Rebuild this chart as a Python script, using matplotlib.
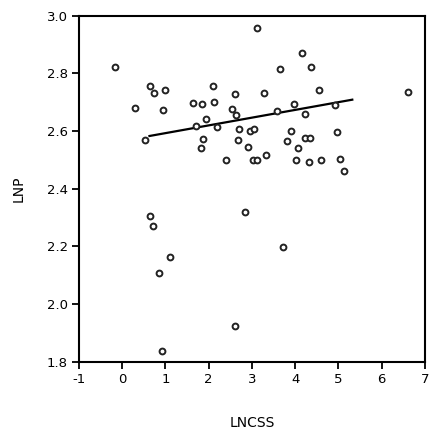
import numpy as np
import matplotlib.pyplot as plt
from matplotlib.ticker import FormatStrFormatter

# datos
lncss = [-0.17, 0.29, 0.53, 0.64, 0.74, 0.99, 0.94, 1.64, 1.84, 1.94,
         1.71, 1.86, 1.81, 2.11, 2.12, 2.20, 2.41, 2.54, 2.61, 2.63,
         2.69, 2.68, 2.90, 2.95, 3.05, 3.02, 3.12, 3.12, 4.15, 3.65,
         4.37, 3.28, 4.55, 6.60, 3.59, 3.97, 4.22, 4.92, 3.33, 3.91,
         3.81, 4.22, 4.34, 4.06, 4.02, 4.32, 4.60, 4.97, 5.03, 5.13,
         0.64, 0.71, 0.84, 1.10, 0.93, 2.61, 2.85, 3.72]
lnp = [2.823, 2.681, 2.570, 2.755, 2.733, 2.742, 2.674, 2.696, 2.694, 2.641,
       2.616, 2.571, 2.543, 2.756, 2.700, 2.613, 2.500, 2.676, 2.729, 2.656,
       2.606, 2.570, 2.546, 2.601, 2.608, 2.500, 2.500, 2.956, 2.871, 2.814,
       2.823, 2.733, 2.742, 2.735, 2.670, 2.694, 2.659, 2.691, 2.517, 2.599,
       2.564, 2.575, 2.575, 2.541, 2.501, 2.493, 2.500, 2.596, 2.503, 2.462,
       2.305, 2.271, 2.108, 2.164, 1.837, 1.923, 2.319, 2.199]

# recta de ajuste
fit_x = [0.63, 5.32]
fit_y = [2.583, 2.709]

xticks = [-1, 0, 1, 2, 3, 4, 5, 6, 7]
yticks = [1.8, 2.0, 2.2, 2.4, 2.6, 2.8, 3.0]

plt.rcParams['font.family'] = ['DejaVu Sans']
plt.rcParams['axes.unicode_minus'] = False

fig = plt.figure(figsize=(4.33, 4.34), dpi=100)
ax = fig.add_axes([0.1824, 0.1666, 0.799, 0.797])

ax.plot(fit_x, fit_y, color='black', linewidth=1.6, zorder=2)
ax.plot(lncss, lnp, 'o', markersize=4.2, markerfacecolor='white',
        markeredgecolor='#222222', markeredgewidth=1.4, zorder=3)

ax.set_xlim(-1, 7)
ax.set_ylim(1.8, 3.0)
ax.set_xticks(xticks)
ax.set_yticks(yticks)
ax.yaxis.set_major_formatter(FormatStrFormatter('%.1f'))

for s in ax.spines.values():
    s.set_linewidth(1.5)

ax.tick_params(direction='out', length=5, width=1.3, labelsize=9.5,
               top=False, right=False, pad=3)

ax.set_xlabel('LNCSS', fontsize=10, labelpad=22)
ax.set_ylabel('LNP', fontsize=10, labelpad=15)

fig.savefig('out.png', dpi=100)
